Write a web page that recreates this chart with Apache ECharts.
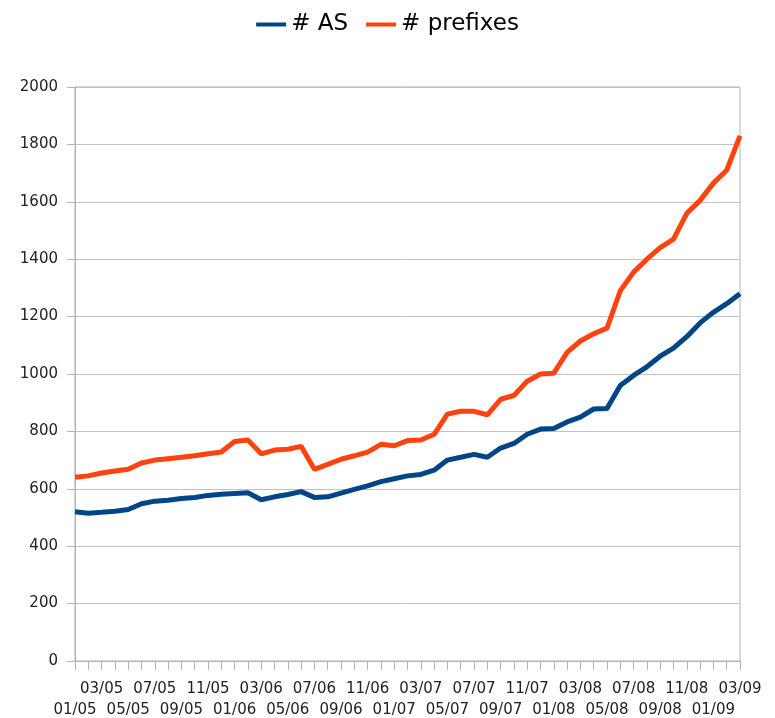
<!DOCTYPE html>
<html>
<head>
<meta charset="utf-8">
<script src="https://cdn.jsdelivr.net/npm/echarts@6/dist/echarts.min.js"></script>
<style>
  html, body { margin: 0; padding: 0; background: #fff; }
  #chart { width: 775px; height: 718px; }
</style>
</head>
<body>
<div id="chart"></div>
<script>
// months 01/05 .. 03/09
var months = ['01/05','02/05','03/05','04/05','05/05','06/05','07/05','08/05','09/05','10/05','11/05','12/05',
              '01/06','02/06','03/06','04/06','05/06','06/06','07/06','08/06','09/06','10/06','11/06','12/06',
              '01/07','02/07','03/07','04/07','05/07','06/07','07/07','08/07','09/07','10/07','11/07','12/07',
              '01/08','02/08','03/08','04/08','05/08','06/08','07/08','08/08','09/08','10/08','11/08','12/08',
              '01/09','02/09','03/09'];

var asCount = [520, 515, 518, 522, 528, 548, 557, 560, 566, 570, 577, 581,
               584, 586, 562, 572, 580, 590, 570, 572, 585, 598, 610, 625,
               635, 645, 650, 665, 700, 710, 720, 710, 742, 758, 790, 808,
               810, 833, 850, 878, 880, 960, 995, 1025, 1062, 1090, 1130, 1178,
               1215, 1245, 1280];

var prefixes = [640, 645, 655, 662, 668, 690, 700, 705, 710, 715, 722, 728,
                765, 770, 722, 735, 738, 748, 668, 685, 703, 715, 728, 755,
                750, 768, 770, 790, 860, 870, 870, 858, 912, 925, 975, 1000,
                1003, 1075, 1115, 1140, 1160, 1290, 1355, 1400, 1440, 1470, 1560, 1605,
                1665, 1710, 1830];

var yTicks = [0, 200, 400, 600, 800, 1000, 1200, 1400, 1600, 1800, 2000];

var chart = echarts.init(document.getElementById('chart'));

var font = 'DejaVu Sans';

var option = {
    animation: false,
    textStyle: { fontFamily: font },
    legend: {
        top: 8,
        left: 'center',
        itemWidth: 30,
        itemHeight: 4,
        itemGap: 18,
        icon: 'rect',
        textStyle: { fontSize: 23, color: '#000', fontFamily: font },
        data: ['# AS', '# prefixes']
    },
    grid: {
        left: 75,
        right: 35,
        top: 87,
        bottom: 57,
        outerBoundsMode: 'none',
        show: true,
        borderColor: '#b3b3b3',
        borderWidth: 1
    },
    xAxis: {
        type: 'category',
        boundaryGap: false,
        data: months,
        axisLine: { lineStyle: { color: '#b3b3b3', width: 1 } },
        axisTick: { show: true, interval: 0, length: 9, lineStyle: { color: '#b3b3b3' } },
        axisLabel: {
            interval: 0,
            margin: 18,
            fontSize: 15,
            lineHeight: 21,
            color: '#222',
            fontFamily: font,
            formatter: function (v, i) {
                if (i % 2 === 1) return '';
                return (i % 4 === 0) ? '\n' + v : v;
            }
        },
        splitLine: { show: false }
    },
    yAxis: {
        type: 'value',
        min: yTicks[0],
        max: yTicks[yTicks.length - 1],
        interval: 200,
        axisLine: { show: true, lineStyle: { color: '#b3b3b3', width: 1 } },
        axisTick: { show: true, length: 8, lineStyle: { color: '#b3b3b3' } },
        axisLabel: {
            fontSize: 15, color: '#222', margin: 17, fontFamily: font,
            formatter: function (v) { return String(v); }
        },
        splitLine: { show: true, lineStyle: { color: '#c0c0c0', width: 1 } }
    },
    series: [
        {
            name: '# AS',
            type: 'line',
            data: asCount,
            showSymbol: false,
            symbol: 'none',
            color: '#004586',
            lineStyle: { width: 5, color: '#004586' }
        },
        {
            name: '# prefixes',
            type: 'line',
            data: prefixes,
            showSymbol: false,
            symbol: 'none',
            color: '#ff420e',
            lineStyle: { width: 5, color: '#ff420e' }
        }
    ]
};

chart.setOption(option);
</script>
</body>
</html>
